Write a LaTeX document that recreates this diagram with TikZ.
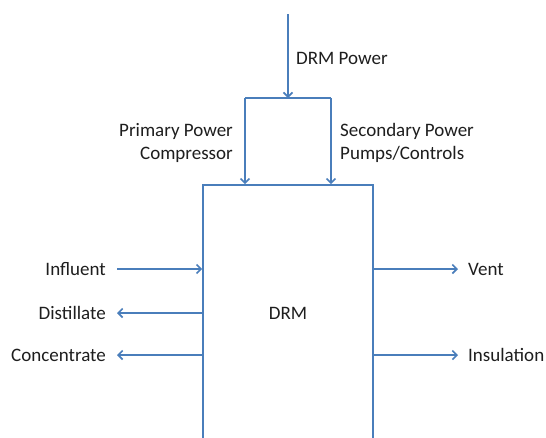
\documentclass[tikz,border=0pt]{standalone}
\usepackage{fontspec}
\setmainfont{Carlito}
\usetikzlibrary{arrows.meta}
\definecolor{lineblue}{HTML}{4A7EBB}
\definecolor{txt}{HTML}{1E1E1E}
\tikzset{
  flow/.style={draw=lineblue, line width=1.6pt, -{Straight Barb[length=4.5pt,width=9pt]}},
  wire/.style={draw=lineblue, line width=1.6pt},
  lbl/.style={text=txt, font=\fontsize{19}{22}\selectfont, inner sep=0pt},
}
\begin{document}
\begin{tikzpicture}[x=1pt,y=-1pt]
\useasboundingbox (0,0) rectangle (546,437);
\clip (0,0) rectangle (546,437);
\fill[white] (0,0) rectangle (546,437);
% main box (bottom runs off the picture)
\node[draw=lineblue, line width=1.6pt, minimum width=170pt, minimum height=280pt, inner sep=0pt] (box) at (288,325) {};
\node[lbl] (drm) at (288,313) {DRM};
% power supply
\coordinate (src) at (288,14);
\coordinate (split) at (288,98);
\coordinate (jl) at (245,98);
\coordinate (jr) at (331,98);
\draw[flow] (src) -- (split);
\draw[wire] (jl) -- (jr);
\draw[flow] (jl) -- (jl |- box.north);
\draw[flow] (jr) -- (jr |- box.north);
\node[lbl, anchor=west] (pw) at (296,58) {DRM Power};
\node[lbl, anchor=east, align=right] (prim) at (233,143) {Primary Power\\[1pt]Compressor};
\node[lbl, anchor=west, align=left] (sec) at (340,143) {Secondary Power\\[1pt]Pumps/Controls};
% left side
\node[lbl, anchor=east] (inf) at (106,269) {Influent};
\node[lbl, anchor=east] (dis) at (106,313) {Distillate};
\node[lbl, anchor=east] (con) at (106,355) {Concentrate};
\draw[flow] ([xshift=11pt]inf.east) -- (inf.east -| box.west);
\draw[flow] (dis.east -| box.west) -- ([xshift=11pt]dis.east);
\draw[flow] (con.east -| box.west) -- ([xshift=11pt]con.east);
% right side
\node[lbl, anchor=west] (vent) at (468,269) {Vent};
\node[lbl, anchor=west] (ins) at (468,355) {Insulation};
\draw[flow] (vent.west -| box.east) -- ([xshift=-10pt]vent.west);
\draw[flow] (ins.west -| box.east) -- ([xshift=-10pt]ins.west);
\end{tikzpicture}
\end{document}
